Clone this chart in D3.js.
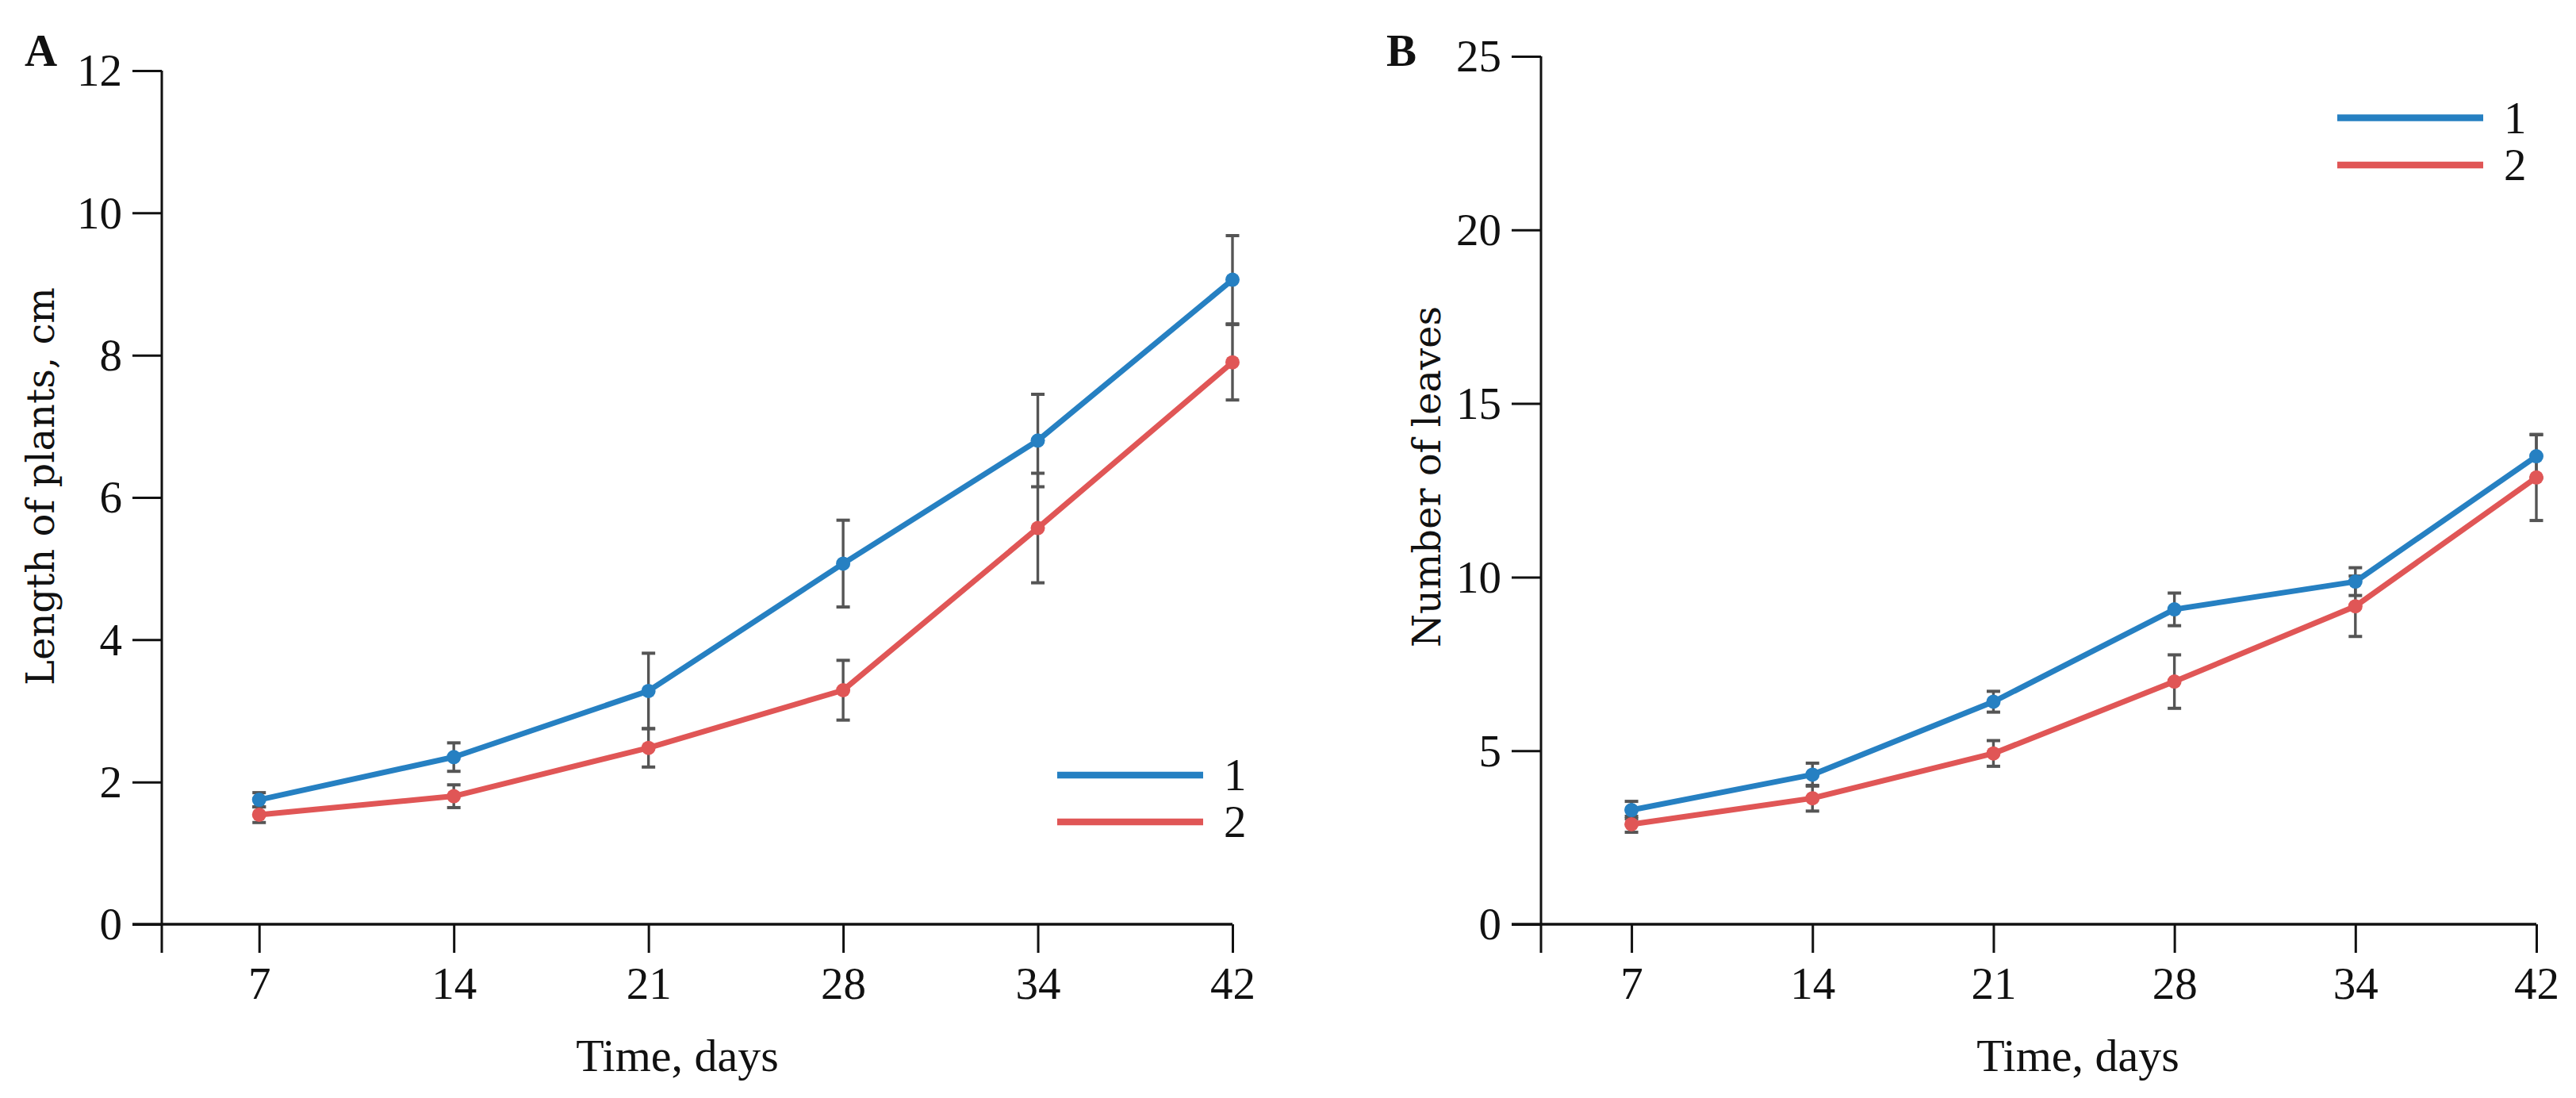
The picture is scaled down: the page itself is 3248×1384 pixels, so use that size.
<!DOCTYPE html>
<html>
<head>
<meta charset="utf-8">
<script src="https://cdn.jsdelivr.net/npm/d3@7"></script>
<style>
  html, body { margin: 0; padding: 0; background: #fff; }
  svg { display: block; }
</style>
</head>
<body>
<svg id="chart" width="3248" height="1384"></svg>
<script>
// ---------------- data ----------------
const days = ["7", "14", "21", "28", "34", "42"];

const lengthSeries1 = [1.75, 2.35, 3.28, 5.07, 6.80, 9.06];
const lengthSeries1Err = [0.10, 0.20, 0.53, 0.61, 0.65, 0.62];
const lengthSeries2 = [1.54, 1.80, 2.48, 3.29, 5.57, 7.90];
const lengthSeries2Err = [0.11, 0.16, 0.27, 0.42, 0.77, 0.53];

const leavesSeries1 = [3.29, 4.31, 6.41, 9.07, 9.87, 13.48];
const leavesSeries1Err = [0.25, 0.33, 0.30, 0.47, 0.40, 0.62];
const leavesSeries2 = [2.88, 3.63, 4.92, 6.99, 9.16, 12.87];
const leavesSeries2Err = [0.23, 0.37, 0.37, 0.77, 0.87, 1.24];

const lengthTicks = [0, 2, 4, 6, 8, 10, 12];
const leavesTicks = [0, 5, 10, 15, 20, 25];
const seriesNames = ["1", "2"];

// ---------------- styles ----------------
const BLUE = "#2680c2";
const RED = "#e05656";
const GRAY = "#555555";
const TICK_FONT = "'Liberation Serif', 'Times New Roman', serif";
const LABEL_FONT = "'DejaVu Serif', serif";

const svg = d3.select("#chart");
svg.append("rect").attr("width", 3248).attr("height", 1384).attr("fill", "#fff");

function panel(cfg) {
  const g = svg.append("g");
  const x = d3.scalePoint()
    .domain(days)
    .range([cfg.left + (cfg.right - cfg.left) / 5.5 / 2, cfg.right]);
  const y = d3.scaleLinear().domain([0, cfg.yMax]).range([cfg.bottom, cfg.top]);

  // y axis
  const yAxis = d3.axisLeft(y).tickValues(cfg.ticks).tickSize(37).tickPadding(13).tickSizeOuter(0);
  const ya = g.append("g").attr("transform", `translate(${cfg.left},0)`).call(yAxis);
  ya.select(".domain").remove();
  ya.selectAll(".tick line").attr("stroke", "#111").attr("stroke-width", 3);
  ya.selectAll(".tick text")
    .attr("font-family", TICK_FONT).attr("font-size", 57).attr("fill", "#111")
    .attr("dy", "0.33em");

  // x axis
  const xAxis = d3.axisBottom(x).tickSize(36).tickPadding(18).tickSizeOuter(0);
  const xa = g.append("g").attr("transform", `translate(0,${cfg.bottom})`).call(xAxis);
  xa.select(".domain").remove();
  xa.selectAll(".tick line").attr("stroke", "#111").attr("stroke-width", 3);
  xa.selectAll(".tick text")
    .attr("font-family", TICK_FONT).attr("font-size", 57).attr("fill", "#111");

  // axis lines
  g.append("line")
    .attr("x1", cfg.left).attr("x2", cfg.left)
    .attr("y1", y(cfg.yMax)).attr("y2", cfg.bottom + 36)
    .attr("stroke", "#111").attr("stroke-width", 3);
  g.append("line")
    .attr("x1", cfg.left - 37).attr("x2", cfg.right)
    .attr("y1", y(0)).attr("y2", y(0))
    .attr("stroke", "#111").attr("stroke-width", 3.4);

  // axis titles
  g.append("text")
    .attr("transform", `translate(${cfg.yLabelX},${cfg.yLabelY}) rotate(-90)`)
    .attr("text-anchor", "middle")
    .attr("font-family", LABEL_FONT).attr("font-size", cfg.yLabelSize).attr("fill", "#111")
    .text(cfg.yLabel);
  g.append("text")
    .attr("x", cfg.xLabelX).attr("y", 1350)
    .attr("text-anchor", "middle")
    .attr("font-family", TICK_FONT).attr("font-size", 58).attr("fill", "#111")
    .text("Time, days");

  // panel letter
  g.append("text")
    .attr("x", cfg.letterX).attr("y", 83)
    .attr("font-family", TICK_FONT).attr("font-weight", "bold").attr("font-size", 57).attr("fill", "#111")
    .text(cfg.letter);

  const series = [
    { vals: cfg.s1, err: cfg.e1, color: BLUE },
    { vals: cfg.s2, err: cfg.e2, color: RED }
  ];

  // error bars
  series.forEach(s => {
    const eb = g.append("g");
    days.forEach((d, i) => {
      const cx = x(d);
      const hi = y(s.vals[i] + s.err[i]);
      const lo = y(s.vals[i] - s.err[i]);
      eb.append("line").attr("x1", cx).attr("x2", cx).attr("y1", hi).attr("y2", lo)
        .attr("stroke", GRAY).attr("stroke-width", 3.4);
      [hi, lo].forEach(yy => {
        eb.append("line").attr("x1", cx - 8.5).attr("x2", cx + 8.5).attr("y1", yy).attr("y2", yy)
          .attr("stroke", GRAY).attr("stroke-width", 4);
      });
    });
  });

  // lines and points
  const line = d3.line().x((v, i) => x(days[i])).y(v => y(v));
  series.forEach(s => {
    g.append("path").attr("d", line(s.vals))
      .attr("fill", "none").attr("stroke", s.color).attr("stroke-width", 7)
      .attr("stroke-linejoin", "round");
    g.selectAll(null).data(s.vals).enter().append("circle")
      .attr("cx", (v, i) => x(days[i])).attr("cy", v => y(v)).attr("r", 9)
      .attr("fill", s.color);
  });

  // legend
  seriesNames.forEach((name, i) => {
    const ly = cfg.legendY + i * cfg.legendGap;
    g.append("line")
      .attr("x1", cfg.legendX).attr("x2", cfg.legendX + 184)
      .attr("y1", ly).attr("y2", ly)
      .attr("stroke", series[i].color).attr("stroke-width", 8.5);
    g.append("text")
      .attr("x", cfg.legendX + 210).attr("y", ly)
      .attr("dy", "0.34em")
      .attr("font-family", TICK_FONT).attr("font-size", 57).attr("fill", "#111")
      .text(name);
  });
}

panel({
  left: 204, right: 1554, top: 89, bottom: 1165, yMax: 12, ticks: lengthTicks,
  s1: lengthSeries1, e1: lengthSeries1Err, s2: lengthSeries2, e2: lengthSeries2Err,
  yLabel: "Length of plants, cm", yLabelX: 68, yLabelY: 613, yLabelSize: 48,
  xLabelX: 854, letter: "A", letterX: 31,
  legendX: 1333, legendY: 977, legendGap: 59
});

panel({
  left: 1943, right: 3198, top: 71, bottom: 1165, yMax: 25, ticks: leavesTicks,
  s1: leavesSeries1, e1: leavesSeries1Err, s2: leavesSeries2, e2: leavesSeries2Err,
  yLabel: "Number of leaves", yLabelX: 1816, yLabelY: 601, yLabelSize: 48,
  xLabelX: 2620, letter: "B", letterX: 1748,
  legendX: 2947, legendY: 148.5, legendGap: 59.5
});
</script>
</body>
</html>
